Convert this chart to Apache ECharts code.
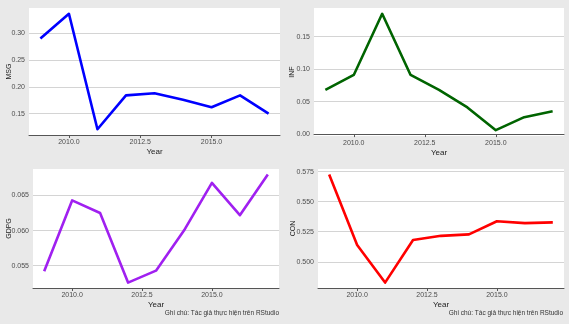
<!DOCTYPE html>
<html>
<head>
<meta charset="utf-8">
<script src="https://cdn.jsdelivr.net/npm/echarts@6/dist/echarts.min.js"></script>
<style>
html,body{margin:0;padding:0;background:#e9e9e9;}
#c{width:569px;height:324px;}
</style>
</head>
<body>
<div id="c"></div>
<script>
const years = [2009, 2010, 2011, 2012, 2013, 2014, 2015, 2016, 2017];
const msg  = [0.290, 0.336, 0.121, 0.184, 0.188, 0.176, 0.162, 0.184, 0.150];
const inf  = [0.068, 0.091, 0.185, 0.091, 0.068, 0.041, 0.006, 0.026, 0.035];
const gdpg = [0.0542, 0.0643, 0.0625, 0.0526, 0.0543, 0.0600, 0.0668, 0.0622, 0.0680];
const con  = [0.5727, 0.514, 0.4827, 0.5182, 0.5216, 0.5228, 0.5337, 0.5322, 0.5328];
const xTicks = [2010, 2012.5, 2015];
const msgTicks  = [0.15, 0.20, 0.25, 0.30];
const infTicks  = [0.00, 0.05, 0.10, 0.15];
const gdpgTicks = [0.055, 0.060, 0.065];
const conTicks  = [0.500, 0.525, 0.550, 0.575];
const caption = 'Ghi chú: Tác giả thực hiện trên RStudio';

const FONT = '"Liberation Sans", Arial, sans-serif';
function ext(arr) {
  const lo = Math.min(...arr), hi = Math.max(...arr), p = (hi - lo) * 0.05;
  return [lo - p, hi + p];
}
const xr = ext(years);

const panels = [
  {name: 'MSG',  data: msg,  ticks: msgTicks,  dec: 2, color: '#0000ff', gap: 16, grid: {left: 29,  top: 8,   width: 251, height: 127}},
  {name: 'INF',  data: inf,  ticks: infTicks,  dec: 2, color: '#006400', gap: 18, grid: {left: 314, top: 8,   width: 250, height: 128}},
  {name: 'GDPG', data: gdpg, ticks: gdpgTicks, dec: 3, color: '#a020f0', gap: 20, grid: {left: 33,  top: 169, width: 246, height: 119}},
  {name: 'CON',  data: con,  ticks: conTicks,  dec: 3, color: '#ff0000', gap: 21, grid: {left: 318, top: 169, width: 246, height: 119}}
];

const option = {
  animation: false,
  backgroundColor: '#e9e9e9',
  grid: panels.map(p => Object.assign({show: true, backgroundColor: '#ffffff', borderWidth: 0}, p.grid)),
  xAxis: panels.map((p, i) => ({
    type: 'value', gridIndex: i, min: xr[0], max: xr[1],
    name: 'Year', nameLocation: 'middle', nameGap: 13, nameMoveOverlap: false,
    nameTextStyle: {fontFamily: FONT, fontSize: 8, color: '#222'},
    axisLine: {show: true, lineStyle: {color: '#555', width: 1}},
    axisTick: {show: true, length: 3, customValues: xTicks, lineStyle: {color: '#555'}},
    axisLabel: {customValues: xTicks, formatter: v => v.toFixed(1), fontFamily: FONT, fontSize: 7, color: '#4d4d4d', margin: 4},
    splitLine: {show: false}
  })),
  yAxis: panels.map((p, i) => {
    const r = ext(p.data);
    return {
      type: 'value', gridIndex: i, min: r[0], max: r[1],
      name: p.name, nameLocation: 'middle', nameRotate: 90, nameGap: p.gap, nameMoveOverlap: false,
      nameTextStyle: {fontFamily: FONT, fontSize: 7, color: '#222'},
      axisLine: {show: false},
      axisTick: {show: false, customValues: p.ticks},
      axisLabel: {customValues: p.ticks, formatter: v => v.toFixed(p.dec), fontFamily: FONT, fontSize: 7, color: '#4d4d4d', margin: 4},
      splitLine: {show: true, lineStyle: {color: '#d4d4d4', width: 1}}
    };
  }),
  series: panels.map((p, i) => ({
    type: 'line', xAxisIndex: i, yAxisIndex: i,
    data: years.map((y, k) => [y, p.data[k]]),
    showSymbol: false, symbol: 'none',
    lineStyle: {color: p.color, width: 2.6, join: 'round'}
  })),
  graphic: [
    {type: 'text', right: 569 - 279, top: 310, style: {text: caption, font: '6.5px ' + FONT, fill: '#333'}},
    {type: 'text', right: 569 - 563, top: 310, style: {text: caption, font: '6.5px ' + FONT, fill: '#333'}}
  ]
};
const chart = echarts.init(document.getElementById('c'), null, {renderer: 'canvas'});
chart.setOption(option);
</script>
</body>
</html>
